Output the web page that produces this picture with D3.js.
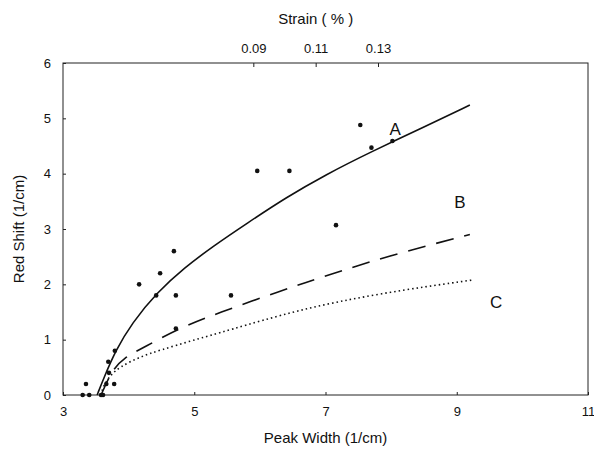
<!DOCTYPE html>
<html>
<head>
<meta charset="utf-8">
<script src="https://cdn.jsdelivr.net/npm/d3@7"></script>
<style>
    body { margin: 0; background: #fff; }
    svg { display: block; font-family: "Liberation Sans", Arial, sans-serif; }
</style>
</head>
<body>
<svg id="chart"></svg>
<script>
// measured points (peak width, red shift)
const pointsX = [3.30, 3.35, 3.40, 3.58, 3.61, 3.66, 3.78, 3.70, 3.69, 3.79, 4.16, 4.48, 4.42, 4.72, 4.69, 4.72, 5.56, 5.96, 6.45, 7.16, 7.53, 7.70, 8.02];
const pointsY = [0.0, 0.2, 0.0, 0.0, 0.0, 0.2, 0.2, 0.4, 0.6, 0.8, 2.0, 2.2, 1.8, 1.8, 2.6, 1.2, 1.8, 4.05, 4.05, 3.07, 4.88, 4.47, 4.59];

// fitted curves A, B, C
const curveAX = [3.52, 3.62, 3.80, 4.05, 4.43, 4.85, 5.30, 5.80, 6.40, 7.00, 7.70, 8.50, 9.20];
const curveAY = [0.00, 0.30, 0.80, 1.30, 1.85, 2.30, 2.70, 3.10, 3.57, 3.98, 4.40, 4.84, 5.24];
const curveBX = [3.58, 3.67, 3.76, 3.92, 4.25, 4.74, 5.36, 6.31, 7.00, 7.91, 9.20];
const curveBY = [0.00, 0.24, 0.45, 0.67, 0.87, 1.19, 1.48, 1.88, 2.15, 2.50, 2.90];
const curveCX = [3.58, 3.60, 3.72, 3.87, 4.17, 4.48, 4.98, 5.50, 6.58, 7.83, 9.25];
const curveCY = [0.00, 0.13, 0.36, 0.51, 0.69, 0.81, 0.99, 1.16, 1.54, 1.84, 2.08];
const curveNames = ['A', 'B', 'C'];
const labelX = [8.06, 9.05, 9.6];
const labelY = [4.7, 3.38, 1.57];

const xTicks = [3, 5, 7, 9, 11];
const yTicks = [0, 1, 2, 3, 4, 5, 6];
const strainTicks = [0.09, 0.11, 0.13];

const width = 594, height = 451;
const margin = { top: 63, right: 6, bottom: 56, left: 63 };

const svg = d3.select('#chart')
    .attr('width', width)
    .attr('height', height);

const x = d3.scaleLinear().domain([3, 11]).range([margin.left, width - margin.right]);
const y = d3.scaleLinear().domain([0, 6]).range([height - margin.bottom, margin.top]);
// strain axis is linear in peak width: 0.09 -> 5.9, 0.13 -> 7.8
const xStrain = d3.scaleLinear().domain([0.09, 0.13]).range([x(5.9), x(7.8)]);

// frame
svg.append('rect')
    .attr('x', x(3)).attr('y', y(6))
    .attr('width', x(11) - x(3)).attr('height', y(0) - y(6))
    .attr('fill', 'none').attr('stroke', '#222').attr('stroke-width', 1);

// bottom axis
svg.append('g')
    .attr('transform', `translate(0,${y(0)})`)
    .call(d3.axisBottom(x).tickValues(xTicks).tickFormat(d3.format('d')).tickSize(-3).tickPadding(12))
    .call(g => g.select('.domain').remove())
    .call(g => g.selectAll('line').attr('stroke', '#222'))
    .call(g => g.selectAll('text').attr('font-size', 13).attr('fill', '#111'));

// left axis
svg.append('g')
    .attr('transform', `translate(${x(3)},0)`)
    .call(d3.axisLeft(y).tickValues(yTicks).tickFormat(d3.format('d')).tickSize(-3).tickPadding(12))
    .call(g => g.select('.domain').remove())
    .call(g => g.selectAll('line').attr('stroke', '#222'))
    .call(g => g.selectAll('text').attr('font-size', 13).attr('fill', '#111'));

// top strain axis
svg.append('g')
    .attr('transform', `translate(0,${y(6)})`)
    .call(d3.axisTop(xStrain).tickValues(strainTicks).tickFormat(d3.format('.2f')).tickSize(-4).tickPadding(10))
    .call(g => g.select('.domain').remove())
    .call(g => g.selectAll('line').attr('stroke', '#222'))
    .call(g => g.selectAll('text').attr('font-size', 13).attr('fill', '#111'));

// axis titles
svg.append('text')
    .attr('x', x(7)).attr('y', 443)
    .attr('text-anchor', 'middle').attr('font-size', 15).attr('fill', '#111')
    .text('Peak Width (1/cm)');

svg.append('text')
    .attr('x', xStrain(0.11)).attr('y', 24)
    .attr('text-anchor', 'middle').attr('font-size', 15).attr('fill', '#111')
    .text('Strain ( % )');

svg.append('text')
    .attr('transform', `translate(24,${y(3)}) rotate(-90)`)
    .attr('text-anchor', 'middle').attr('font-size', 15).attr('fill', '#111')
    .text('Red Shift (1/cm)');

// curves
const line = d3.line()
    .x(d => x(d[0]))
    .y(d => y(d[1]))
    .curve(d3.curveBasis);

const curves = [
    { xs: curveAX, ys: curveAY, dash: null, w: 1.6 },
    { xs: curveBX, ys: curveBY, dash: '18,11', w: 1.6 },
    { xs: curveCX, ys: curveCY, dash: '1.5,3', w: 1.6 }
];

curves.forEach(c => {
    svg.append('path')
        .datum(c.xs.map((v, i) => [v, c.ys[i]]))
        .attr('d', line)
        .attr('fill', 'none')
        .attr('stroke', '#111')
        .attr('stroke-width', c.w)
        .attr('stroke-dasharray', c.dash);
});

// curve labels
svg.selectAll('.curve-label')
    .data(curveNames)
    .enter()
    .append('text')
    .attr('class', 'curve-label')
    .attr('x', (d, i) => x(labelX[i]))
    .attr('y', (d, i) => y(labelY[i]))
    .attr('text-anchor', 'middle')
    .attr('font-size', 17)
    .attr('fill', '#111')
    .text(d => d);

// data points
svg.selectAll('.pt')
    .data(pointsX.map((v, i) => [v, pointsY[i]]))
    .enter()
    .append('circle')
    .attr('class', 'pt')
    .attr('cx', d => x(d[0]))
    .attr('cy', d => y(d[1]))
    .attr('r', 2.3)
    .attr('fill', '#111');
</script>
</body>
</html>
